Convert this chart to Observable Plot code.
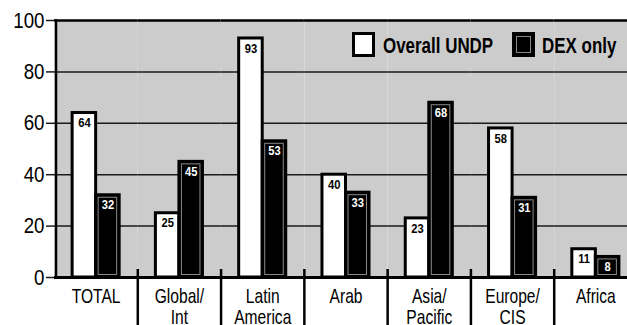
<!DOCTYPE html>
<html>
<head>
<meta charset="utf-8">
<script src="https://cdn.jsdelivr.net/npm/d3@7"></script>
<script src="https://cdn.jsdelivr.net/npm/@observablehq/plot@0.6"></script>
<style>
  html, body { margin: 0; padding: 0; overflow: hidden; background: #fff; }
  #chart { position: relative; width: 640px; height: 325px; }
  .legend-item { position: absolute; }
  .sw { width: 17px; height: 19px; border: 3px solid #000; top: 32px; }
  .sw.white { background: #fff; left: 352px; }
  .sw.black { background: #000; box-shadow: inset 0 0 0 1px #000, inset 0 0 0 2px #888; left: 512px; }
  .lbl {
    top: 35px; white-space: nowrap;
    font-family: "Liberation Sans", Arial, sans-serif;
    font-weight: bold; font-size: 22px; line-height: 1; color: #000;
    transform: scaleX(0.77); transform-origin: left center;
  }
</style>
</head>
<body>
<div id="chart">
  <div class="legend-item sw white"></div>
  <div class="legend-item lbl" style="left:383px">Overall UNDP</div>
  <div class="legend-item sw black"></div>
  <div class="legend-item lbl" style="left:542px">DEX only</div>
</div>
<script>
// Share of projects by region: all UNDP vs. directly executed (DEX) only
const categories = ["TOTAL", "Global/\nInt", "Latin\nAmerica", "Arab", "Asia/\nPacific", "Europe/\nCIS", "Africa"];
const series = ["Overall UNDP", "DEX only"];
const overallUNDP = [64, 25, 93, 40, 23, 58, 11];
const dexOnly = [32, 45, 53, 33, 68, 31, 8];
const yTicks = [0, 20, 40, 60, 80, 100];
const gridTicks = [20, 40, 60, 80];

const rows = categories.flatMap((cat, i) => [
  {cat, series: series[0], value: overallUNDP[i]},
  {cat, series: series[1], value: dexOnly[i]}
]);
const whiteRows = rows.filter(d => d.series === series[0]);
const blackRows = rows.filter(d => d.series === series[1]);

const width = 640, marginLeft = 54, marginRight = 3;
const bandWidth = (width - marginLeft - marginRight) / categories.length;
const font = '"Liberation Sans", Arial, sans-serif';

const chart = Plot.plot({
  width,
  height: 325,
  marginLeft,
  marginRight,
  marginTop: 20,
  marginBottom: 48,
  style: {fontFamily: font, background: "transparent", color: "#000"},
  fx: {domain: categories, padding: 0, round: false},
  x: {domain: series, paddingInner: 0, paddingOuter: 0.77, round: false, axis: null},
  y: {domain: [0, 100], axis: null},
  color: {domain: series, range: ["#ffffff", "#000000"]},
  marks: [
    // grey plotting area
    Plot.frame({fill: "#cccccc", stroke: null}),
    Plot.gridY(gridTicks, {stroke: "#1a1a1a", strokeOpacity: 1, strokeWidth: 1.5}),
    // bars
    Plot.barY(rows, {fx: "cat", x: "series", y: "value", fill: "series", stroke: "#000", strokeWidth: 3}),
    Plot.barY(blackRows, {fx: "cat", x: "series", y: "value", inset: 2.5, fill: "none", stroke: "#8a8a8a", strokeWidth: 1}),
    // value labels inside the bar tops
    Plot.text(whiteRows, {fx: "cat", x: "series", y: "value", text: d => String(d.value), dy: 10, fill: "#000", fontWeight: "bold", fontSize: 13, className: "narrow-val"}),
    Plot.text(blackRows, {fx: "cat", x: "series", y: "value", text: d => String(d.value), dy: 10, fill: "#fff", fontWeight: "bold", fontSize: 13, className: "narrow-val"}),
    // frame edges
    Plot.ruleY([100], {stroke: "#000", strokeWidth: 2.5}),
    Plot.ruleY([0], {stroke: "#000", strokeWidth: 3}),
    Plot.frame({anchor: "left", facetAnchor: "left", stroke: "#000", strokeWidth: 2.5, dx: 1.5}),
    // axes
    Plot.axisY({ticks: yTicks, tickSize: 8, tickPadding: 2, fontSize: 22, stroke: "#1a1a1a", strokeWidth: 1.5, label: null}),
    Plot.axisFx({anchor: "bottom", tickSize: 0, tickPadding: 11, fontSize: 20, lineHeight: 1.03, label: null}),
    // separators between region groups
    Plot.axisFx({anchor: "bottom", ticks: categories.slice(1), tickSize: 56, dx: -bandWidth / 2, dy: -8, tickFormat: () => "", strokeWidth: 2.5, label: null})
  ]
});

// Condense the lettering horizontally, keeping each label's anchor point fixed.
function condense(text, s) {
  const t = text.getAttribute("transform") || "";
  const xa = text.getAttribute("x");
  let shift = "";
  if (xa != null && /^-?[\d.]+$/.test(xa.trim())) {
    shift = `translate(${+xa},0)`;
    text.removeAttribute("x");
  }
  text.setAttribute("transform", `${t} ${shift} scale(${s},1)`.trim());
}
chart.querySelectorAll("[aria-label='y-axis tick label'] text").forEach(t => condense(t, 0.85));
chart.querySelectorAll("[aria-label='fx-axis tick label'] text").forEach(t => condense(t, 0.78));
chart.querySelectorAll(".narrow-val text").forEach(t => condense(t, 0.86));

document.getElementById("chart").prepend(chart);
</script>
</body>
</html>
